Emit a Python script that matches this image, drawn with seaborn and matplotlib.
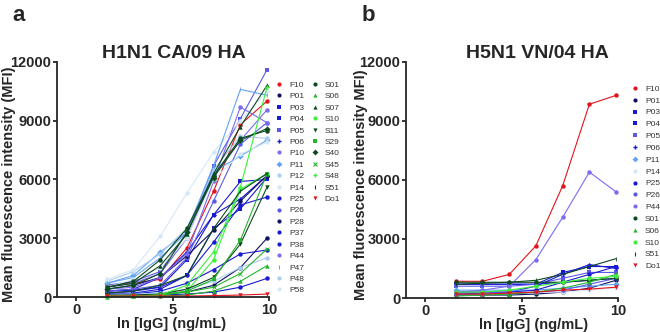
import matplotlib
matplotlib.use("Agg")
import matplotlib.pyplot as plt
from matplotlib.lines import Line2D
import pandas as pd
import seaborn as sns

# ln of the IgG concentration (ng/mL), shared by both panels
ln_igg = [1.59, 2.97, 4.36, 5.74, 7.13, 8.52, 9.90]

# colours used in the legend
RED = "#e3141c"
NAVY = "#101060"
BLUE = "#1a1ad2"
SLATE = "#5a5ae6"
PURPLE = "#7a6cf0"
LBLUE = "#63a4f5"
PALE = "#a9cdf2"
VPALE = "#d5e8f8"
DGREEN = "#0d4a1f"
GREEN = "#25b52a"
LIME = "#3cf03c"

# panel a: H1N1 CA/09 HA
h1_names = ["F10", "P01", "P03", "P04", "P05", "P06", "P10", "P11", "P12", "P14",
            "P25", "P26", "P28", "P37", "P38", "P44", "P47", "P48", "P58",
            "S01", "S06", "S07", "S10", "S11", "S29", "S40", "S45", "S48", "S51", "Do1"]
h1_colors = [RED, NAVY, BLUE, BLUE, SLATE, BLUE, PURPLE, LBLUE, PALE, VPALE,
             BLUE, SLATE, NAVY, BLUE, BLUE, PURPLE, LBLUE, PALE, VPALE,
             DGREEN, GREEN, DGREEN, LIME, DGREEN, GREEN, DGREEN, GREEN, LIME, DGREEN, RED]
h1_markers = ["o", "o", "s", "s", "s", "P", "o", "D", "o", "o",
              "o", "o", "o", "o", "o", "o", "|", "o", "o",
              "o", "^", "^", "o", "v", "s", "D", "x", "P", "|", "v"]
h1_values = [
    [600, 700, 900, 2500, 5400, 8800, 10000],
    [100, 100, 150, 250, 600, 1500, 3000],
    [300, 350, 500, 1100, 3500, 4500, 6100],
    [200, 300, 500, 1900, 4200, 5900, 6000],
    [600, 800, 1300, 3300, 6700, 9100, 11600],
    [300, 400, 1000, 2300, 4200, 5000, 6200],
    [500, 700, 1200, 3000, 6200, 8000, 9550],
    [700, 1100, 2300, 3300, 6400, 7200, 8000],
    [800, 1300, 2200, 3500, 6500, 8200, 8100],
    [900, 1400, 3100, 5300, 7400, 9000, 10500],
    [200, 200, 400, 1100, 2800, 4700, 5100],
    [300, 400, 600, 2000, 4900, 7800, 8900],
    [400, 600, 1000, 2100, 3400, 4900, 6200],
    [50, 50, 100, 150, 250, 500, 950],
    [100, 150, 300, 700, 1400, 2200, 2400],
    [400, 500, 1000, 2200, 5900, 9700, 8900],
    [700, 1000, 2000, 3300, 6700, 10600, 10300],
    [100, 150, 200, 400, 800, 1500, 2000],
    [500, 900, 1500, 3000, 6000, 7300, 7900],
    [500, 800, 1900, 3500, 6200, 8100, 8500],
    [0, 50, 50, 100, 300, 800, 1600],
    [500, 700, 1600, 3200, 6300, 8700, 10800],
    [50, 50, 100, 300, 1900, 5500, 6300],
    [100, 100, 150, 400, 1000, 2700, 5600],
    [50, 50, 100, 300, 900, 2900, 6300],
    [400, 600, 1200, 3300, 6100, 8000, 8600],
    [50, 50, 100, 250, 500, 1200, 2450],
    [50, 50, 100, 600, 2300, 5600, 10700],
    [200, 300, 600, 1100, 3500, 5400, 6300],
    [50, 50, 50, 50, 70, 100, 150],
]

# panel b: H5N1 VN/04 HA
h5_names = ["F10", "P01", "P03", "P04", "P05", "P06", "P11", "P14", "P25", "P26",
            "P44", "S01", "S06", "S10", "S51", "Do1"]
h5_colors = [RED, NAVY, BLUE, BLUE, SLATE, BLUE, LBLUE, VPALE, BLUE, SLATE,
             PURPLE, DGREEN, GREEN, LIME, DGREEN, RED]
h5_markers = ["o", "o", "s", "s", "s", "P", "D", "o", "o", "o",
              "o", "o", "^", "o", "|", "v"]
h5_values = [
    [850, 850, 1200, 2650, 5700, 9850, 10300],
    [150, 150, 150, 200, 300, 500, 900],
    [700, 700, 700, 700, 1300, 1600, 1600],
    [700, 700, 700, 700, 800, 900, 1000],
    [600, 600, 600, 700, 1000, 1300, 1300],
    [200, 250, 300, 600, 1200, 1700, 1500],
    [400, 400, 400, 400, 500, 600, 700],
    [300, 300, 300, 300, 300, 400, 500],
    [300, 300, 300, 400, 800, 1200, 1600],
    [200, 200, 200, 300, 400, 700, 1000],
    [300, 400, 600, 1950, 4100, 6400, 5400],
    [800, 800, 800, 800, 800, 900, 1000],
    [100, 150, 200, 300, 500, 800, 1200],
    [300, 300, 400, 600, 800, 1000, 1100],
    [700, 750, 800, 900, 1200, 1600, 2000],
    [200, 200, 250, 300, 400, 450, 550],
]

sns.set_style("ticks")
plt.rcParams["font.family"] = ["Liberation Sans", "DejaVu Sans"]

fig = plt.figure(figsize=(6.6, 3.32), dpi=100)
ax_a = fig.add_axes([0.0864, 0.1054, 0.321, 0.708])
ax_b = fig.add_axes([0.6152, 0.1024, 0.321, 0.711])


def draw_panel(ax, names, colors, markers, values):
    for name, c, m, v in zip(names, colors, markers, values):
        df = pd.DataFrame({"x": ln_igg, "y": v})
        sns.lineplot(data=df, x="x", y="y", ax=ax, color=c, marker=m,
                     markersize=3.2, markeredgewidth=0.6 if m in "|x" else 0,
                     markeredgecolor=c, linewidth=0.8, legend=False, clip_on=False)
    ax.set_xlim(-1, 10)
    ax.set_ylim(0, 12000)
    ax.set_xticks([0, 5, 10])
    ax.set_yticks([0, 3000, 6000, 9000, 12000])
    ax.tick_params(direction="out", length=3, width=1.3, labelsize=10.5, pad=1)
    for lab in ax.get_xticklabels() + ax.get_yticklabels():
        lab.set_fontweight("bold")
    for s in ["left", "bottom"]:
        ax.spines[s].set_linewidth(1.3)
    sns.despine(ax=ax)
    ax.set_xlabel("ln [IgG] (ng/mL)", fontsize=10.5, fontweight="bold", va="center")


def add_legend(ax, names, colors, markers, x, y, spacing):
    handles = [Line2D([], [], linestyle="none", marker=m, color=c, markersize=3,
                      markeredgewidth=0.8 if m in "|x" else 0, markeredgecolor=c)
               for c, m in zip(colors, markers)]
    leg = ax.legend(handles, names, loc="upper left", bbox_to_anchor=(x, y),
                    bbox_transform=fig.transFigure, frameon=False, fontsize=6,
                    handlelength=0.8, handletextpad=0.8, labelspacing=spacing,
                    borderpad=0, borderaxespad=0, labelcolor="#333333")
    return leg


draw_panel(ax_a, h1_names, h1_colors, h1_markers, h1_values)
ax_a.set_ylabel("Mean fluorescence intensity (MFI)", fontsize=10.5, fontweight="bold", va="center")
ax_a.yaxis.set_label_coords(-0.225, 0.48)
ax_a.xaxis.set_label_coords(0.542, -0.115)
ax_a.set_title("H1N1 CA/09 HA", fontsize=14, fontweight="bold", pad=1.5, x=0.55)
leg1 = add_legend(ax_a, h1_names[:19], h1_colors[:19], h1_markers[:19], 0.418, 0.756, 0.43)
ax_a.add_artist(leg1)
add_legend(ax_a, h1_names[19:], h1_colors[19:], h1_markers[19:], 0.472, 0.756, 0.43)

draw_panel(ax_b, h5_names, h5_colors, h5_markers, h5_values)
ax_b.set_ylabel("Mean fluorescence intensity MFI)", fontsize=10.5, fontweight="bold", va="center")
ax_b.yaxis.set_label_coords(-0.212, 0.48)
ax_b.xaxis.set_label_coords(0.6, -0.115)
ax_b.set_title("H5N1 VN/04 HA", fontsize=14, fontweight="bold", pad=1.5, x=0.62)
add_legend(ax_b, h5_names, h5_colors, h5_markers, 0.957, 0.744, 0.48)

fig.text(0.018, 0.953, "a", fontsize=16, fontweight="bold", va="center")
fig.text(0.548, 0.953, "b", fontsize=16, fontweight="bold", va="center")

fig.savefig("out.png", dpi=100)
